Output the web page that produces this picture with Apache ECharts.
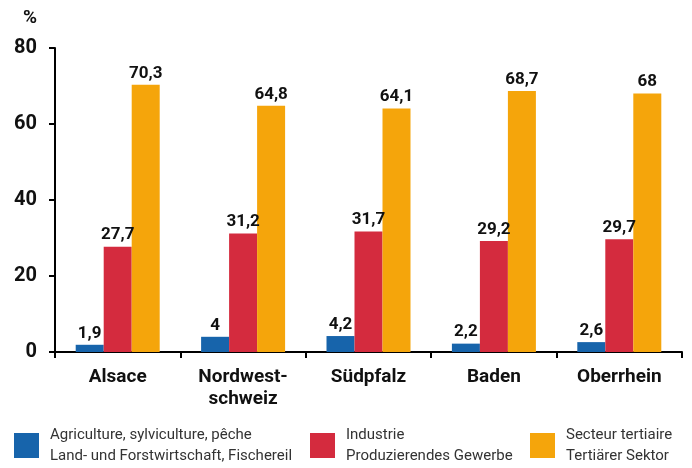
<!DOCTYPE html>
<html>
<head>
<meta charset="utf-8">
<script src="https://cdn.jsdelivr.net/npm/echarts@6/dist/echarts.min.js"></script>
<style>
  html, body { margin: 0; padding: 0; background: #fff; }
  #main { width: 692px; height: 468px; }
</style>
</head>
<body>
<div id="main"></div>
<script>
// Daten aus der Vorlage
var regions = ['Alsace', 'Nordwest-\nschweiz', 'Südpfalz', 'Baden', 'Oberrhein'];
var agriculture = [1.9, 4, 4.2, 2.2, 2.6];
var industrie = [27.7, 31.2, 31.7, 29.2, 29.7];
var tertiaire = [70.3, 64.8, 64.1, 68.7, 68];
var yTicks = [0, 20, 40, 60, 80];

var names = [
    'Agriculture, sylviculture, pêche\nLand- und Forstwirtschaft, Fischereil',
    'Industrie\nProduzierendes Gewerbe',
    'Secteur tertiaire\nTertiärer Sektor'
];
var colors = ['#1764ab', '#d42b3e', '#f5a50b'];
var font = 'Roboto, "Noto Sans", sans-serif';

var myChart = echarts.init(document.getElementById('main'));

function makeSeries(i, data) {
    return {
        name: names[i],
        type: 'bar',
        data: data,
        barWidth: 28,
        barGap: '0%',
        itemStyle: { color: colors[i] },
        label: {
            show: true,
            position: 'top',
            distance: 3,
            color: '#111',
            fontFamily: font,
            fontWeight: 'bold',
            fontSize: 17,
            formatter: function (p) {
                return String(p.value).replace('.', ',');
            }
        }
    };
}

function makeLegend(i, left) {
    return {
        data: [names[i]],
        left: left,
        top: 402,
        itemWidth: 25,
        itemHeight: 25,
        itemGap: 0,
        icon: 'rect',
        selectedMode: false,
        textStyle: {
            color: '#333',
            fontFamily: font,
            fontSize: 15,
            lineHeight: 21,
            padding: [35, 0, 0, 6]
        }
    };
}

myChart.setOption({
    animation: false,
    textStyle: { fontFamily: font },
    grid: { left: 55, right: 10, top: 48, bottom: 116 },
    legend: [makeLegend(0, 9), makeLegend(1, 305), makeLegend(2, 525)],
    xAxis: {
        type: 'category',
        data: regions,
        axisLine: { lineStyle: { color: '#000', width: 2 } },
        axisTick: { show: true, length: 6, lineStyle: { color: '#000', width: 2 } },
        axisLabel: {
            color: '#111',
            fontFamily: font,
            fontWeight: 'bold',
            fontSize: 19,
            lineHeight: 22,
            margin: 14
        }
    },
    yAxis: {
        type: 'value',
        min: yTicks[0],
        max: yTicks[yTicks.length - 1],
        interval: 20,
        name: '%',
        nameLocation: 'end',
        nameGap: 20,
        nameTextStyle: {
            color: '#111',
            fontFamily: font,
            fontWeight: 'bold',
            fontSize: 19,
            align: 'right',
            padding: [0, 18, 0, 0]
        },
        splitLine: { show: false },
        axisLine: { show: true, lineStyle: { color: '#000', width: 2 } },
        axisTick: { show: true, length: 6, lineStyle: { color: '#000', width: 2 } },
        axisLabel: {
            color: '#111',
            fontFamily: font,
            fontWeight: 'bold',
            fontSize: 20,
            margin: 18
        }
    },
    series: [
        makeSeries(0, agriculture),
        makeSeries(1, industrie),
        makeSeries(2, tertiaire)
    ]
});
</script>
</body>
</html>
